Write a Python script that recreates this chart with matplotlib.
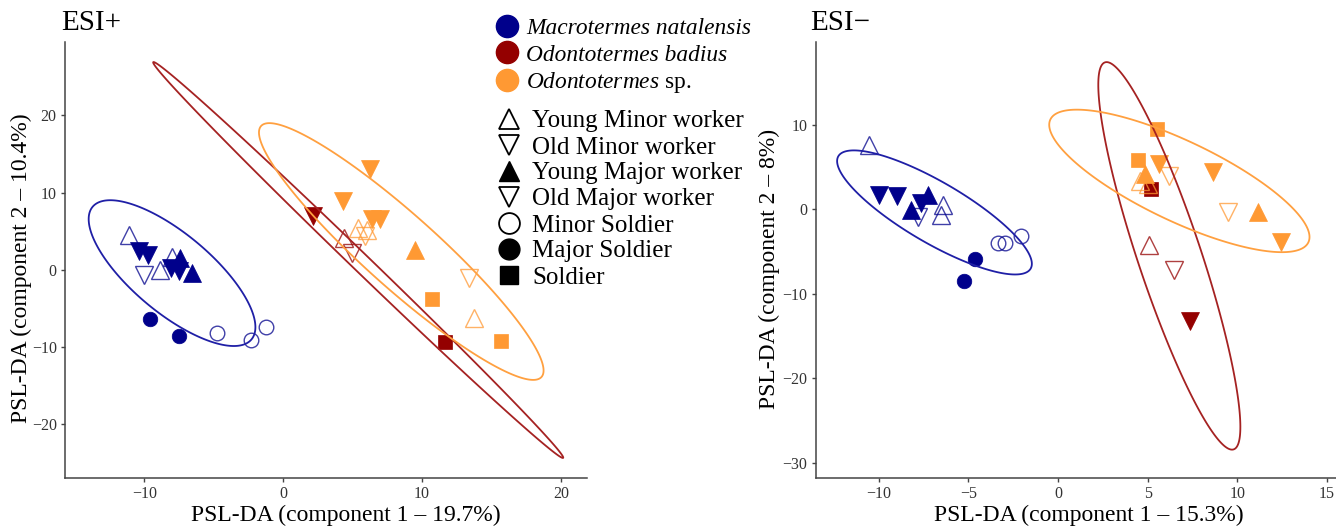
import numpy as np
import matplotlib
matplotlib.use("Agg")
import matplotlib.pyplot as plt
from matplotlib.lines import Line2D
from matplotlib.patches import Polygon

plt.rcParams['font.family'] = ['Liberation Serif', 'DejaVu Serif']
plt.rcParams['mathtext.fontset'] = 'custom'
plt.rcParams['mathtext.rm'] = 'Liberation Serif'
plt.rcParams['mathtext.it'] = 'Liberation Serif:italic'

species_names = ['Macrotermes natalensis', 'Odontotermes badius', r'$\mathit{Odontotermes}$ sp.']
caste_names = ['Young Minor worker', 'Old Minor worker', 'Young Major worker',
               'Old Major worker', 'Minor Soldier', 'Major Soldier', 'Soldier']

# ESI+ scores  (species: 0 M. natalensis, 1 O. badius, 2 O. sp.; caste index as caste_names)
pos_sp = [0, 0, 0, 0, 0, 0, 0, 0, 0, 0, 0, 0, 0, 0, 0,
          1, 1, 1, 1,
          2, 2, 2, 2, 2, 2, 2, 2, 2, 2, 2, 2]
pos_caste = [0, 0, 0, 1, 3, 3, 3, 3, 2, 2, 4, 4, 4, 5, 5,
             3, 0, 1, 6,
             3, 3, 3, 3, 0, 0, 1, 2, 1, 6, 0, 6]
pos_x = [-11.13, -8.85, -8.0, -10.05, -10.4, -9.76, -8.1, -7.5, -7.4, -6.57, -4.77, -2.32, -1.22, -9.6, -7.5,
         2.17, 4.37, 4.93, 11.64,
         6.25, 4.32, 6.37, 6.96, 5.4, 6.05, 5.9, 9.48, 13.4, 10.68, 13.75, 15.67]
pos_y = [4.55, 0.0, 1.7, -0.65, 2.4, 1.95, 0.2, -0.2, 1.5, -0.43, -8.15, -9.1, -7.45, -6.4, -8.65,
         7.0, 4.1, 2.1, -9.44,
         13.0, 8.9, 6.5, 6.5, 5.4, 5.2, 4.3, 2.6, -1.1, -3.8, -6.3, -9.3]

# ESI- scores
neg_sp = [0, 0, 0, 0, 0, 0, 0, 0, 0, 0, 0, 0, 0, 0,
          1, 1, 1, 1,
          2, 2, 2, 2, 2, 2, 2, 2, 2, 2, 2]
neg_caste = [0, 3, 3, 2, 2, 3, 0, 0, 1, 4, 4, 4, 5, 5,
             6, 0, 1, 3,
             6, 6, 3, 1, 2, 0, 0, 3, 1, 2, 3]
neg_x = [-10.55, -10.0, -9.0, -8.18, -7.24, -7.62, -6.41, -6.52, -7.8, -3.37, -2.98, -2.04, -4.64, -5.25,
         5.2, 5.08, 6.46, 7.35,
         5.5, 4.46, 5.65, 6.17, 4.83, 4.55, 5.0, 8.64, 9.48, 11.18, 12.43]
neg_y = [7.57, 1.66, 1.54, -0.1, 1.66, 0.7, 0.47, -0.7, -0.95, -4.0, -4.0, -3.1, -5.9, -8.5,
         2.45, -4.26, -7.2, -13.2,
         9.55, 5.8, 5.4, 4.0, 4.2, 3.4, 3.0, 4.4, -0.3, -0.3, -3.9]

# ellipses per species: centre and shape matrix (sxx, sxy, syy)
pos_ell_center = [(-8.0, -0.45), (5.4, 1.25), (8.5, 2.35)]
pos_ell_shape = [(36.0, -42.0, 89.3), (217.8, -378.0, 658.6), (104.9, -158.0, 277.0)]
neg_ell_center = [(-6.89, -0.36), (6.21, -5.5), (6.77, 3.37)]
neg_ell_shape = [(29.5, -33.0, 53.9), (15.7, -80.2, 525.8), (52.7, -48.2, 71.1)]

point_colors = ['#00008B', '#940000', '#FF9933']
line_colors = ['#1F1FA6', '#A52222', '#FFA040']
caste_marker = ['^', 'v', '^', 'v', 'o', 'o', 's']
caste_filled = [False, False, True, True, False, True, True]
caste_ms = [13.5, 13.5, 13.5, 13.5, 10.5, 10.5, 10.5]


def panel(ax, xs, ys, sp, caste, centers, shapes, xlim, ylim, xticks, yticks,
          xlab, ylab, xlab_x, ylab_x):
    for s in range(3):
        for c in range(7):
            idx = [i for i in range(len(xs)) if sp[i] == s and caste[i] == c]
            if not idx:
                continue
            px = [xs[i] for i in idx]
            py = [ys[i] for i in idx]
            col = point_colors[s]
            if caste_filled[c]:
                ax.plot(px, py, ls='', marker=caste_marker[c], ms=caste_ms[c],
                        color=col, mec=col, mew=0.5, zorder=2)
            else:
                ax.plot(px, py, ls='', marker=caste_marker[c], ms=caste_ms[c],
                        mfc='none', mec=col, mew=1.0, alpha=0.75, zorder=2)
    t = np.linspace(0, 2 * np.pi, 400, endpoint=False)
    for s in range(3):
        sxx, sxy, syy = shapes[s]
        L = np.linalg.cholesky(np.array([[sxx, sxy], [sxy, syy]]))
        pts = np.array(centers[s])[:, None] + L @ np.vstack([np.cos(t), np.sin(t)])
        ax.add_patch(Polygon(pts.T, closed=True, fill=False, edgecolor=line_colors[s],
                             lw=1.3, joinstyle='round', zorder=3))
    ax.set_xlim(*xlim)
    ax.set_ylim(*ylim)
    ax.set_xticks(xticks)
    ax.set_yticks(yticks)
    for side in ['top', 'right']:
        ax.spines[side].set_visible(False)
    for side in ['left', 'bottom']:
        ax.spines[side].set_color('#444444')
        ax.spines[side].set_linewidth(1.1)
    ax.tick_params(colors='#444444', labelsize=11.5, length=3, width=1, pad=3)
    for lab in ax.get_xticklabels() + ax.get_yticklabels():
        lab.set_color('#333333')
    ax.set_xlabel(xlab, fontsize=17)
    ax.set_ylabel(ylab, fontsize=17)
    ax.xaxis.set_label_coords(xlab_x, -0.062)
    ax.yaxis.set_label_coords(ylab_x, 0.48)


fig = plt.figure(figsize=(13.36, 5.28), dpi=100)
ax1 = fig.add_axes([0.0487, 0.0953, 0.391, 0.825])
ax2 = fig.add_axes([0.6105, 0.0953, 0.3894, 0.825])

panel(ax1, pos_x, pos_y, pos_sp, pos_caste, pos_ell_center, pos_ell_shape,
      (-15.7, 21.9), (-26.97, 29.5), [-10, 0, 10, 20], [-20, -10, 0, 10, 20],
      'PSL-DA (component 1 – 19.7%)', 'PSL-DA (component 2 – 10.4%)', 0.538, -0.063)
panel(ax2, neg_x, neg_y, neg_sp, neg_caste, neg_ell_center, neg_ell_shape,
      (-13.52, 15.5), (-31.75, 19.8), [-10, -5, 0, 5, 10, 15], [-30, -20, -10, 0, 10],
      'PSL-DA (component 1 – 15.3%)', 'PSL-DA (component 2 – 8%)', 0.525, -0.0686)

fig.text(61 / 1336, 1 - 10 / 528, 'ESI+', fontsize=21, va='top', ha='left')
fig.text(810 / 1336, 1 - 10 / 528, 'ESI−', fontsize=21, va='top', ha='left')

sp_handles = [Line2D([], [], ls='', marker='o', ms=16, color=c) for c in point_colors]
leg1 = fig.legend(sp_handles, species_names, loc='upper left',
                  bbox_to_anchor=(495 / 1336, 1 - 18 / 528), frameon=False, fontsize=16.8,
                  handlelength=1.0, handletextpad=0.32, labelspacing=0.21,
                  borderpad=0, borderaxespad=0)
for txt in leg1.get_texts()[:2]:
    txt.set_fontstyle('italic')

shape_handles = []
for c in range(7):
    filled = caste_filled[c] and c != 3
    ms = 15 if caste_marker[c] != 's' else 13
    if filled:
        shape_handles.append(Line2D([], [], ls='', marker=caste_marker[c], ms=ms, color='black'))
    else:
        shape_handles.append(Line2D([], [], ls='', marker=caste_marker[c], ms=ms,
                                    mfc='none', mec='black', mew=1.3))
leg2 = fig.legend(shape_handles, caste_names, loc='upper left',
                  bbox_to_anchor=(497 / 1336, 1 - 110 / 528), frameon=False, fontsize=18,
                  handlelength=1.0, handletextpad=0.42, labelspacing=0.14,
                  borderpad=0, borderaxespad=0)

fig.savefig('out.png', dpi=100)
